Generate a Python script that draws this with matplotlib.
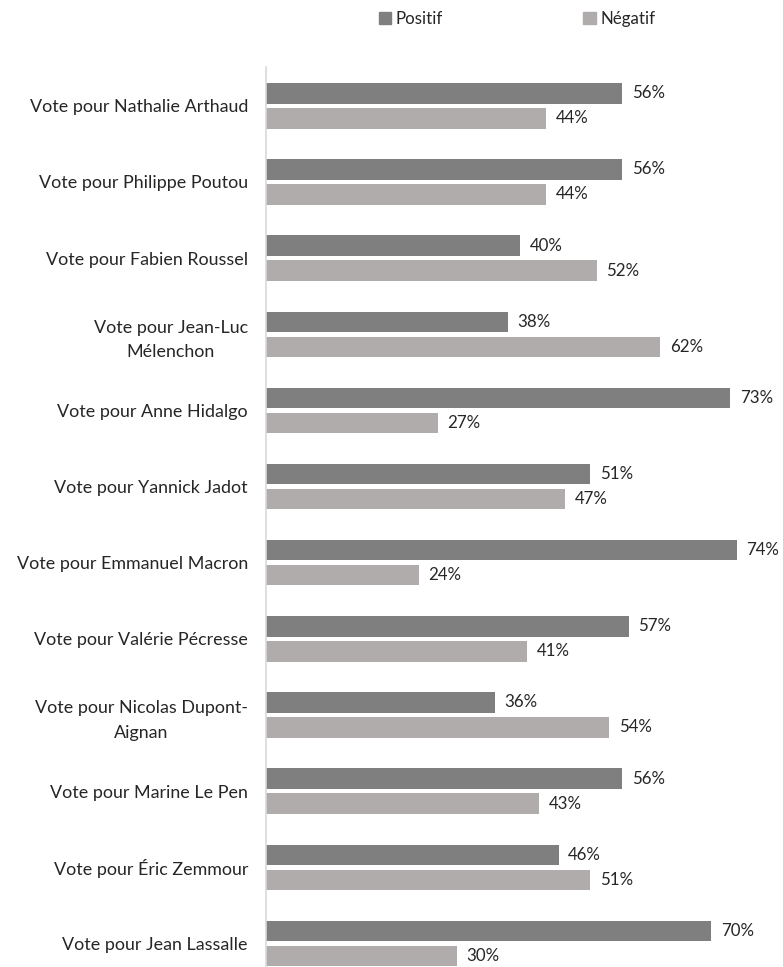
import matplotlib
matplotlib.use("Agg")
import matplotlib.pyplot as plt
from matplotlib.patches import Patch
import numpy as np

plt.rcParams['font.family'] = ['Lato', 'DejaVu Sans']

categories = [
    "Vote pour Nathalie Arthaud",
    "Vote pour Philippe Poutou",
    "Vote pour Fabien Roussel",
    "Vote pour Jean-Luc\nMélenchon",
    "Vote pour Anne Hidalgo",
    "Vote pour Yannick Jadot",
    "Vote pour Emmanuel Macron",
    "Vote pour Valérie Pécresse",
    "Vote pour Nicolas Dupont-\nAignan",
    "Vote pour Marine Le Pen",
    "Vote pour Éric Zemmour",
    "Vote pour Jean Lassalle",
]
positif = [56, 56, 40, 38, 73, 51, 74, 57, 36, 56, 46, 70]
negatif = [44, 44, 52, 62, 27, 47, 24, 41, 54, 43, 51, 30]

dark = "#7f7f7f"
light = "#b0acac"
txt = "#262626"
fs = 12.9
fs_val = 12.2

fig = plt.figure(figsize=(7.83, 9.67), dpi=100)
ax = fig.add_axes([266 / 783, 0, 508.8 / 783, 900 / 967])

y = np.arange(len(categories))
h = 0.269
off = 0.164
ax.barh(y - off, positif, height=h, color=dark)
ax.barh(y + off, negatif, height=h, color=light)

# value labels at bar ends
for i in range(len(categories)):
    ax.annotate(f"{positif[i]}%", (positif[i], y[i] - off), xytext=(7, 0),
                textcoords="offset points", va="center", ha="left", fontsize=fs_val, color=txt)
    ax.annotate(f"{negatif[i]}%", (negatif[i], y[i] + off), xytext=(7, 0),
                textcoords="offset points", va="center", ha="left", fontsize=fs_val, color=txt)

ax.set_xlim(0, 80)
ax.set_ylim(11.31, -0.51)
ax.set_yticks(y)
ax.set_yticklabels(categories, fontsize=fs, color=txt, multialignment="center", linespacing=1.65)
ax.tick_params(axis="y", length=0, pad=13)
ax.set_xticks([])
for s in ["top", "right", "bottom"]:
    ax.spines[s].set_visible(False)
ax.spines["left"].set_color("#d9d9d9")
ax.spines["left"].set_linewidth(1.2)

handles = [Patch(color=dark, label="Positif"), Patch(color=light, label="Négatif")]
fig.legend(handles=handles, loc="center", bbox_to_anchor=(517 / 783, 1 - 19 / 967),
           ncol=2, frameon=False, fontsize=fs_val, handlelength=0.75, handleheight=0.75,
           handletextpad=0.25, columnspacing=8.3, labelcolor=txt)

fig.savefig("out.png", dpi=100)
